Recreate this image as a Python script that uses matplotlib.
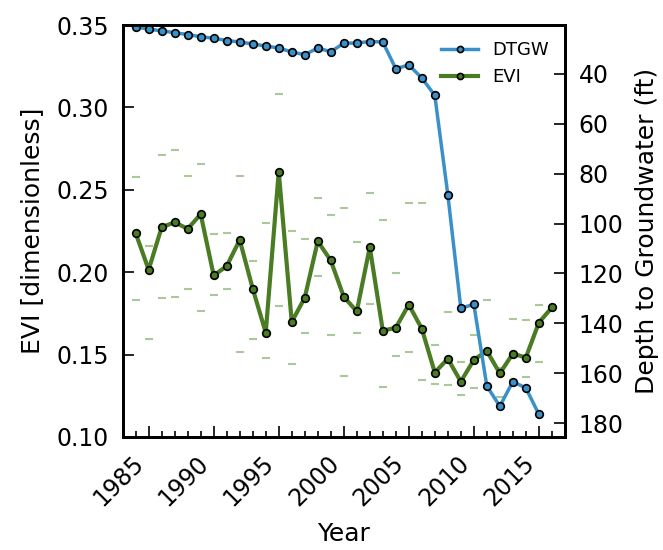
import numpy as np
import matplotlib
matplotlib.use("Agg")
import matplotlib.pyplot as plt
from matplotlib.ticker import MultipleLocator

# Data
years = list(range(1984, 2017))

evi = [0.2237, 0.2015, 0.2273, 0.2303, 0.2263, 0.2352, 0.1980, 0.2037, 0.2196,
       0.1900, 0.1633, 0.2610, 0.1698, 0.1845, 0.2188, 0.2071, 0.1851, 0.1762,
       0.2152, 0.1645, 0.1663, 0.1803, 0.1657, 0.1391, 0.1475, 0.1336, 0.1468,
       0.1522, 0.1386, 0.1506, 0.1482, 0.1694, 0.1786]

evi_upper = [0.2578, 0.2160, 0.2711, 0.2740, 0.2582, 0.2658, 0.2234, 0.2239, 0.2582,
             0.2065, 0.2301, 0.3082, 0.2249, 0.2200, 0.2451, 0.2348, 0.2388, 0.2186,
             0.2479, 0.2319, 0.1996, 0.2419, 0.2422, 0.1560, 0.1758, 0.1455, 0.1617,
             0.1829, 0.1420, 0.1718, 0.1707, 0.1798, np.nan]

evi_lower = [0.1829, 0.1592, 0.1843, 0.1847, 0.1901, 0.1762, 0.1861, 0.1895, 0.1516,
             0.1597, 0.1482, 0.1795, 0.1443, 0.1633, 0.1974, 0.1619, 0.1373, 0.1629,
             0.1809, 0.1302, 0.1490, 0.1516, 0.1347, 0.1324, 0.1318, 0.1257, 0.1300,
             0.1316, 0.1244, 0.1344, 0.1365, 0.1455, np.nan]

dtgw_years = list(range(1984, 2016))
dtgw = [21.2, 22.2, 22.8, 23.6, 24.3, 25.2, 25.8, 26.7, 27.3, 28.1, 28.9, 29.7,
        31.3, 32.4, 29.7, 31.2, 27.8, 27.7, 27.1, 27.3, 38.0, 36.5, 41.7, 48.7,
        88.4, 133.9, 132.4, 165.1, 173.2, 163.3, 165.9, 176.4]

blue = '#3a90c8'
green = '#4a7c23'
pale = '#a9c99a'

fig = plt.figure(figsize=(6.63, 5.5), dpi=100)
ax = fig.add_axes([0.185, 0.2055, 0.667, 0.749])
ax2 = ax.twinx()

ax.plot(years, evi_upper, ls='none', marker='_', ms=6, mew=1.5, color=pale)
ax.plot(years, evi_lower, ls='none', marker='_', ms=6, mew=1.5, color=pale)
l_evi, = ax.plot(years, evi, color=green, lw=3, marker='o', ms=5.5,
                 mfc=green, mec='black', mew=1.2, label='EVI')
l_dtgw, = ax2.plot(dtgw_years, dtgw, color=blue, lw=2.5, marker='o', ms=5.5,
                   mfc=blue, mec='black', mew=1.2, label='DTGW')

ax.set_xlim(1983, 2017)
ax.set_ylim(0.10, 0.35)
ax.set_yticks([0.10, 0.15, 0.20, 0.25, 0.30, 0.35])
ax.set_yticklabels(['%.2f' % v for v in [0.10, 0.15, 0.20, 0.25, 0.30, 0.35]])
ax.xaxis.set_major_locator(MultipleLocator(5))
ax.xaxis.set_minor_locator(MultipleLocator(1))
ax.set_xticks(range(1985, 2016, 5))
for lbl in ax.get_xticklabels():
    lbl.set_rotation(45)
    lbl.set_ha('right')

ax2.set_ylim(185.5, 20.5)
ax2.set_yticks(range(40, 181, 20))

for a in (ax, ax2):
    a.tick_params(which='major', direction='in', length=8, width=1.2,
                  labelsize=17, pad=10)
    a.tick_params(which='minor', direction='in', length=4, width=1.2)
    for s in a.spines.values():
        s.set_linewidth(2)
ax.tick_params(axis='y', right=False)
ax.tick_params(axis='x', which='both', top=False)
ax2.tick_params(axis='x', which='both', top=False, bottom=False)

ax.set_xlabel('Year', fontsize=18, labelpad=8)
ax.set_ylabel('EVI [dimensionless]', fontsize=18, labelpad=9)
ax2.set_ylabel('Depth to Groundwater (ft)', fontsize=18, labelpad=8)

ax2.legend(handles=[l_dtgw, l_evi], loc='upper right', frameon=False,
           fontsize=13, numpoints=1, markerscale=0.8)

fig.savefig('out.png', dpi=100)
